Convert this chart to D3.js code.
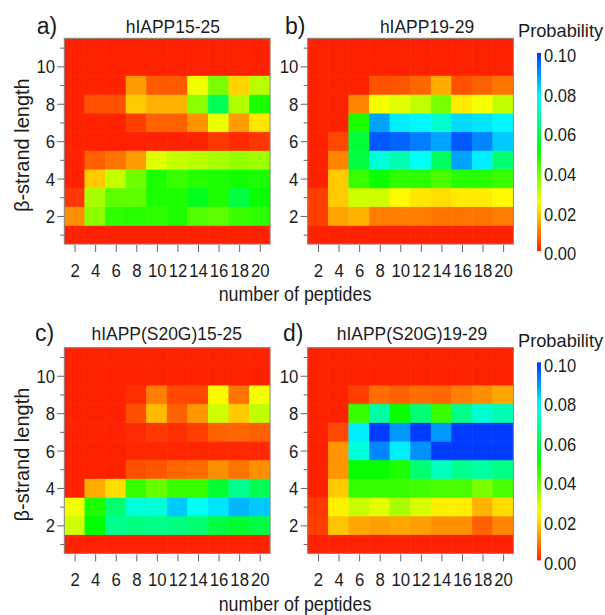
<!DOCTYPE html>
<html>
<head>
<meta charset="utf-8">
<script src="https://cdn.jsdelivr.net/npm/d3@7"></script>
<style>
  html, body { margin: 0; padding: 0; background: #fff; }
  svg { display: block; font-family: "Liberation Sans", Arial, sans-serif; }
</style>
</head>
<body>
<svg id="chart" width="605" height="615"></svg>
<script>
// ---- data -------------------------------------------------------------
const peptideCounts = [2, 4, 6, 8, 10, 12, 14, 16, 18, 20];
const strandLengths = [1, 2, 3, 4, 5, 6, 7, 8, 9, 10, 11];
const colorTicks = [0, 0.02, 0.04, 0.06, 0.08, 0.10];
const panelTitles = ["hIAPP15-25", "hIAPP19-29", "hIAPP(S20G)15-25", "hIAPP(S20G)19-29"];
const panelLetters = ["a)", "b)", "c)", "d)"];

// probability rows: strand length 1 .. 11, columns: peptide count 2 .. 20
const probA = [
  [0, 0, 0, 0, 0, 0, 0, 0, 0, 0],
  [0.0115, 0.036, 0.046, 0.047, 0.046, 0.048, 0.042, 0.041, 0.045, 0.046],
  [0.0022, 0.033, 0.041, 0.041, 0.048, 0.048, 0.054, 0.048, 0.058, 0.050],
  [0, 0.018, 0.030, 0.039, 0.048, 0.045, 0.047, 0.048, 0.049, 0.048],
  [0, 0.0066, 0.0088, 0.013, 0.027, 0.030, 0.031, 0.033, 0.035, 0.034],
  [0, 0, 0, 0, 0, 0, 0, 0.0022, 0.0007, 0.002],
  [0, 0, 0, 0.003, 0.0066, 0.0066, 0.012, 0.026, 0.013, 0.021],
  [0, 0.005, 0.005, 0.018, 0.0155, 0.0155, 0.036, 0.060, 0.032, 0.048],
  [0, 0, 0, 0.013, 0.006, 0.006, 0.025, 0.038, 0.019, 0.031],
  [0, 0, 0, 0, 0, 0, 0, 0, 0, 0],
  [0, 0, 0, 0, 0, 0, 0, 0, 0, 0]
];
const probB = [
  [0, 0, 0, 0, 0, 0, 0, 0, 0, 0],
  [0.003, 0.014, 0.0155, 0.0097, 0.0097, 0.0097, 0.0088, 0.0088, 0.0088, 0.0097],
  [0.003, 0.018, 0.029, 0.029, 0.023, 0.021, 0.020, 0.0215, 0.0215, 0.023],
  [0, 0.018, 0.045, 0.050, 0.046, 0.046, 0.043, 0.047, 0.047, 0.045],
  [0, 0.0106, 0.058, 0.074, 0.0695, 0.077, 0.061, 0.088, 0.080, 0.063],
  [0, 0.004, 0.057, 0.096, 0.095, 0.092, 0.088, 0.096, 0.091, 0.084],
  [0, 0, 0.048, 0.088, 0.080, 0.079, 0.073, 0.082, 0.081, 0.079],
  [0, 0, 0.0106, 0.0246, 0.027, 0.0305, 0.038, 0.0215, 0.0246, 0.030],
  [0, 0, 0, 0.005, 0.0055, 0.0073, 0.0146, 0.005, 0.0066, 0.0088],
  [0, 0, 0, 0, 0, 0, 0, 0, 0, 0],
  [0, 0, 0, 0, 0, 0, 0, 0, 0, 0]
];
const probC = [
  [0, 0, 0, 0, 0, 0, 0, 0, 0, 0],
  [0.029, 0.051, 0.066, 0.0646, 0.0655, 0.0646, 0.063, 0.058, 0.056, 0.058],
  [0.025, 0.048, 0.063, 0.074, 0.074, 0.084, 0.077, 0.081, 0.086, 0.084],
  [0, 0.0146, 0.020, 0.045, 0.040, 0.045, 0.045, 0.056, 0.066, 0.060],
  [0, 0, 0, 0.0049, 0.0056, 0.0073, 0.008, 0.0115, 0.0088, 0.0115],
  [0, 0, 0, 0.0005, 0.0005, 0.0005, 0.0005, 0.0005, 0.0005, 0.0005],
  [0, 0, 0, 0.001, 0.0022, 0.0013, 0.003, 0.0066, 0.0073, 0.0066],
  [0, 0, 0, 0.0049, 0.0164, 0.0066, 0.0124, 0.029, 0.018, 0.0305],
  [0, 0, 0, 0.0013, 0.0097, 0.004, 0.004, 0.023, 0.0088, 0.0246],
  [0, 0, 0, 0, 0, 0, 0, 0, 0, 0],
  [0, 0, 0, 0, 0, 0, 0, 0, 0, 0]
];
const probD = [
  [0, 0, 0, 0, 0, 0, 0, 0, 0, 0],
  [0.003, 0.0173, 0.0142, 0.0133, 0.0142, 0.0133, 0.0115, 0.0115, 0.0066, 0.0106],
  [0.0022, 0.022, 0.0296, 0.027, 0.033, 0.028, 0.022, 0.022, 0.0155, 0.020],
  [0, 0.018, 0.045, 0.045, 0.045, 0.044, 0.043, 0.043, 0.038, 0.043],
  [0, 0.0124, 0.050, 0.050, 0.048, 0.063, 0.071, 0.066, 0.068, 0.065],
  [0, 0.0124, 0.074, 0.091, 0.080, 0.090, 0.099, 0.099, 0.099, 0.099],
  [0, 0.004, 0.080, 0.099, 0.089, 0.099, 0.089, 0.099, 0.099, 0.099],
  [0, 0, 0.045, 0.068, 0.050, 0.063, 0.045, 0.065, 0.073, 0.070],
  [0, 0, 0.003, 0.008, 0.0066, 0.008, 0.0073, 0.0097, 0.0115, 0.0142],
  [0, 0, 0, 0, 0, 0, 0, 0, 0, 0],
  [0, 0, 0, 0, 0, 0, 0, 0, 0, 0]
];
const panelValues = [probA, probB, probC, probD];

// ---- layout -------------------------------------------------------------
const SIZE = 205.7;
const layout = [
  { x: 64.3,  y: 38.3,  titleX: 172.8, titleY: 33.3, letterX: 36.7, letterY: 33.5, bar: false },
  { x: 307.7, y: 38.3,  titleX: 427,   titleY: 33.3, letterX: 285,  letterY: 33.5, bar: true },
  { x: 64.3,  y: 347.7, titleX: 166.7, titleY: 340,  letterX: 35,   letterY: 341,  bar: false },
  { x: 307.7, y: 347.7, titleX: 412,   titleY: 340,  letterX: 283,  letterY: 341,  bar: true }
];
const xLabelY = [300.5, 611];
const TEXT = "#1c1c1c";
const TICK = "#666";

const svg = d3.select("#chart");

// rainbow colour scale: red (0) -> blue (0.10), via hue
const hue = d3.scaleLinear().domain([0, 0.1]).range([8, 228]).clamp(true);
const color = v => d3.hsl(hue(v), 1, 0.5).formatHex();

const x = d3.scaleLinear().domain([1, 21]).range([0, SIZE]);
const y = d3.scaleLinear().domain([0.5, 11.5]).range([SIZE, 0]);

// text helper with slight horizontal condensing
function label(parent, tx, ty, str, size, anchor, k) {
  return parent.append("g")
    .attr("transform", `translate(${tx},${ty})`)
    .append("text")
    .attr("transform", `scale(${k},1)`)
    .attr("text-anchor", anchor)
    .attr("font-size", size)
    .attr("fill", TEXT)
    .text(str);
}

// gradient for colour bars
const grad = svg.append("defs").append("linearGradient")
  .attr("id", "probGrad").attr("x1", 0).attr("y1", 1).attr("x2", 0).attr("y2", 0);
d3.range(0, 1.0001, 0.05).forEach(t => {
  grad.append("stop").attr("offset", t).attr("stop-color", color(t * 0.1));
});

layout.forEach((p, i) => {
  const vals = panelValues[i];
  const g = svg.append("g").attr("transform", `translate(${p.x},${p.y})`);

  // heatmap cells
  const cells = [];
  strandLengths.forEach((L, r) => {
    peptideCounts.forEach((n, c) => cells.push({ n, L, v: vals[r][c] }));
  });
  g.selectAll("rect.cell").data(cells).enter().append("rect")
    .attr("class", "cell")
    .attr("x", d => x(d.n - 1))
    .attr("y", d => y(d.L + 0.5))
    .attr("width", d => x(d.n + 1) - x(d.n - 1))
    .attr("height", d => y(d.L - 0.5) - y(d.L + 0.5))
    .attr("fill", d => color(d.v))
    .attr("stroke", d => color(d.v))
    .attr("stroke-width", 0.6);

  // frame
  g.append("rect").attr("x", 0).attr("y", 0).attr("width", SIZE).attr("height", SIZE)
    .attr("fill", "none").attr("stroke", "#8a8a8a").attr("stroke-width", 1);

  // y axis: major (labelled) and minor ticks
  const yMinor = g.append("g").call(
    d3.axisLeft(y).tickValues([1, 3, 5, 7, 9, 11]).tickSize(4).tickFormat(""));
  const yMajor = g.append("g").call(
    d3.axisLeft(y).tickValues([2, 4, 6, 8, 10]).tickSize(7).tickPadding(2));
  [yMinor, yMajor].forEach(ax => {
    ax.select(".domain").remove();
    ax.selectAll("line").attr("stroke", TICK);
  });
  yMajor.selectAll("text")
    .attr("font-size", 19).attr("font-family", null).attr("fill", TEXT)
    .attr("x", -9.3 / 0.88).attr("dy", "0.34em")
    .attr("transform", "scale(0.88,1)");

  // x axis
  const xAx = g.append("g").attr("transform", `translate(0,${SIZE + 1})`).call(
    d3.axisBottom(x).tickValues(peptideCounts).tickSize(7).tickPadding(11.5));
  xAx.select(".domain").remove();
  xAx.selectAll("line").attr("stroke", TICK);
  xAx.selectAll("text")
    .attr("font-size", 19).attr("font-family", null).attr("fill", TEXT)
    .attr("transform", "scale(0.88,1)");

  // panel title and letter
  label(svg, p.titleX, p.titleY, panelTitles[i], 19, "middle", 0.92);
  label(svg, p.letterX, p.letterY, panelLetters[i], 23, "start", 1);

  // y-axis title on the left column
  if (!p.bar) {
    svg.append("text")
      .attr("transform", `translate(29,${p.y + SIZE / 2 + 4}) rotate(-90)`)
      .attr("text-anchor", "middle").attr("font-size", 20).attr("fill", TEXT)
      .text("β-strand length");
  }

  // colour bar on the right column
  if (p.bar) {
    const top = p.y + 14.7, bottom = p.y + 212.7;
    svg.append("rect").attr("x", 537).attr("y", top).attr("width", 4)
      .attr("height", bottom - top).attr("fill", "url(#probGrad)");
    const cScale = d3.scaleLinear().domain([0, 0.1]).range([bottom, top]);
    const cAx = svg.append("g").attr("transform", "translate(541,3)").call(
      d3.axisRight(cScale).tickValues(colorTicks).tickSize(0).tickPadding(3)
        .tickFormat(d3.format(".2f")));
    cAx.select(".domain").remove();
    cAx.selectAll("text")
      .attr("font-size", 18).attr("font-family", null).attr("fill", TEXT)
      .attr("x", 3 / 0.92).attr("transform", "scale(0.92,1)");
    label(svg, 518, p.y - 1, "Probability", 19, "start", 0.96);
  }
});

// shared x-axis titles
xLabelY.forEach(yy => label(svg, 295, yy, "number of peptides", 20.5, "middle", 0.87));
</script>
</body>
</html>
